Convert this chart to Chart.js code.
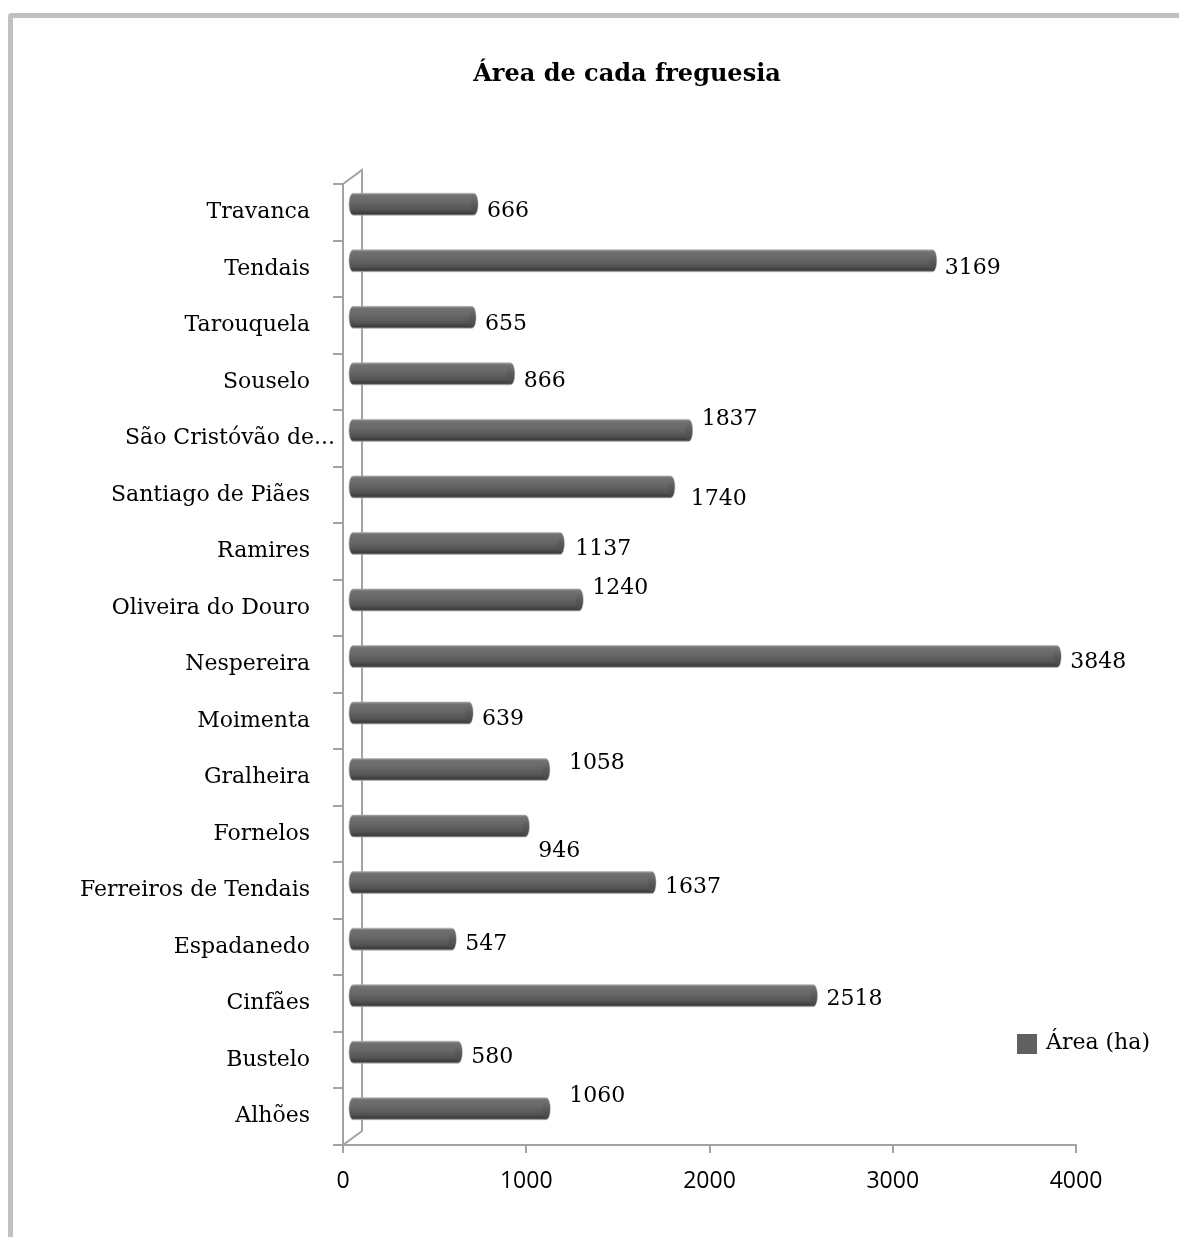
<!DOCTYPE html>
<html>
<head>
<meta charset="utf-8">
<script src="https://cdn.jsdelivr.net/npm/chart.js@4.4.1/dist/chart.umd.min.js"></script>
<style>
  html, body { margin:0; padding:0; background:#fff; width:1179px; height:1237px; overflow:hidden; }
  #frame { position:absolute; left:8px; top:13px; width:1200px; height:1260px;
           border-left:5px solid #c0c0c0; border-top:5px solid #c0c0c0; border-top-left-radius:4px; box-sizing:border-box; }
  #c { position:absolute; left:0; top:0; }
</style>
</head>
<body>
<div id="frame"></div>
<canvas id="c" width="1179" height="1237"></canvas>
<script>
// ---- data (bottom to top, as listed in the source table) ----
const chartTitle = 'Área de cada freguesia';
const seriesName = 'Área (ha)';
const categories = ['Alhões','Bustelo','Cinfães','Espadanedo','Ferreiros de Tendais','Fornelos','Gralheira','Moimenta','Nespereira','Oliveira do Douro','Ramires','Santiago de Piães','São Cristóvão de...','Souselo','Tarouquela','Tendais','Travanca'];
const areaValues = [1060,580,2518,547,1637,946,1058,639,3848,1240,1137,1740,1837,866,655,3169,666];
const xTicks = [0,1000,2000,3000,4000];

// ---- styling (label nudges, in px: [dx, dy]) ----
const labelNudges = [[10,-20],[0,-3],[0,-4],[0,-3],[0,-3],[0,17],[10,-14],[0,-2],[0,-2],[0,-20],[2,-2],[7,4],[0,-19],[0,-1],[0,-1],[-1,-1],[0,-1]];
const catLabelNudgeX = {12: 25};   // the truncated label sits closer to the axis
const SERIF = '"DejaVu Serif", serif';
const AXIS_GRAY = '#a3a3a3';
const DEPTH_X = 19, DEPTH_Y = -14;
const SHIFT_X = 9, SHIFT_Y = -8;

const wallPlugin = {
  id:'wall',
  beforeDatasetsDraw(chart){
    const {ctx, chartArea:a} = chart;
    ctx.save();
    ctx.strokeStyle = AXIS_GRAY; ctx.lineWidth = 2;
    ctx.beginPath();
    ctx.moveTo(a.left, a.top);
    ctx.lineTo(a.left + DEPTH_X, a.top + DEPTH_Y);
    ctx.lineTo(a.left + DEPTH_X, a.bottom + DEPTH_Y);
    ctx.lineTo(a.left, a.bottom);
    ctx.stroke();
    ctx.restore();
  }
};

const barPlugin = {
  id:'bar3d',
  beforeDatasetDraw(chart, args){
    const {ctx} = chart;
    ctx.save();
    args.meta.data.forEach((el) => {
      const p = el.getProps(['x','y','base','height'], true);
      const x0 = p.base + SHIFT_X, x1 = p.x + SHIFT_X, yc = p.y + SHIFT_Y, h = p.height;
      const top = yc - h/2, rx = 4;
      const g = ctx.createLinearGradient(0, top, 0, top + h);
      g.addColorStop(0, '#9a9a9a');
      g.addColorStop(0.1, '#707070');
      g.addColorStop(0.4, '#686868');
      g.addColorStop(0.75, '#545454');
      g.addColorStop(0.92, '#3c3c3c');
      g.addColorStop(1, '#7a7a7a');
      ctx.beginPath();
      ctx.ellipse(x0, yc, rx, h/2, 0, Math.PI/2, Math.PI*1.5);
      ctx.lineTo(x1, top);
      ctx.ellipse(x1, yc, rx, h/2, 0, -Math.PI/2, Math.PI/2);
      ctx.closePath();
      ctx.fillStyle = g; ctx.fill();
      ctx.strokeStyle = 'rgba(170,170,170,0.6)'; ctx.lineWidth = 1; ctx.stroke();
      const g2 = ctx.createLinearGradient(0, top, 0, top + h);
      g2.addColorStop(0, '#7a7a7a');
      g2.addColorStop(0.5, '#5a5a5a');
      g2.addColorStop(1, '#454545');
      ctx.beginPath();
      ctx.ellipse(x1, yc, rx - 0.5, h/2 - 1, 0, 0, Math.PI*2);
      ctx.fillStyle = g2; ctx.fill();
    });
    ctx.restore();
    return false;
  }
};

const textPlugin = {
  id:'texts',
  afterDraw(chart){
    const {ctx} = chart;
    const ds = chart.data.datasets[0];
    const meta = chart.getDatasetMeta(0);
    const yScale = chart.scales.y;
    ctx.save();
    ctx.fillStyle = '#000';
    // category labels that need their own placement
    ctx.font = '22px ' + SERIF;
    ctx.textAlign = 'right'; ctx.textBaseline = 'middle';
    Object.keys(catLabelNudgeX).forEach(k => {
      const i = +k;
      ctx.fillText(chart.data.labels[i], yScale.right - 10 - 23 + catLabelNudgeX[k], yScale.getPixelForValue(i));
    });
    // value labels
    ctx.textAlign = 'left';
    meta.data.forEach((el, i) => {
      const p = el.getProps(['x','y'], true);
      const n = labelNudges[i];
      ctx.fillText(String(ds.data[i]), p.x + 22 + n[0], p.y + n[1]);
    });
    // title
    ctx.font = 'bold 24px ' + SERIF;
    ctx.textAlign = 'center';
    ctx.fillText(chartTitle, 627, 75);
    // legend
    ctx.fillStyle = '#606060';
    ctx.fillRect(1017, 1034, 20, 20);
    ctx.fillStyle = '#000';
    ctx.font = '22px ' + SERIF;
    ctx.textAlign = 'left';
    ctx.fillText(ds.label, 1046, 1043);
    ctx.restore();
  }
};

new Chart(document.getElementById('c'), {
  type:'bar',
  data:{
    labels: categories,
    datasets:[{ label: seriesName, data: areaValues, backgroundColor:'#606060', barThickness:22 }]
  },
  options:{
    indexAxis:'y',
    responsive:false,
    animation:false,
    events:[],
    layout:{ padding:{ top:184, right:103, bottom:0, left:0 } },
    plugins:{ legend:{display:false}, title:{display:false}, tooltip:{enabled:false} },
    scales:{
      x:{
        min:0, max:4000,
        afterBuildTicks(s){ s.ticks = xTicks.map(v => ({value:v})); },
        ticks:{ font:{ family:'"Open Sans", sans-serif', size:23 }, color:'#000', padding:15, maxRotation:0,
                callback:(v) => String(v) },
        grid:{ drawOnChartArea:false, tickLength:8, color:AXIS_GRAY, lineWidth:2 },
        border:{ color:AXIS_GRAY, width:2 },
        afterFit(s){ s.height = 92; }
      },
      y:{
        reverse:true,
        ticks:{ font:{ family:SERIF, size:22 }, color:'#000', padding:23,
                callback:function(v, i){ return (i in catLabelNudgeX) ? '' : this.getLabelForValue(v); } },
        grid:{ drawOnChartArea:false, tickLength:10, color:AXIS_GRAY, lineWidth:2, offset:true },
        border:{ color:AXIS_GRAY, width:2 },
        afterFit(s){ s.width = 343; }
      }
    }
  },
  plugins:[wallPlugin, barPlugin, textPlugin]
});
</script>
</body>
</html>
